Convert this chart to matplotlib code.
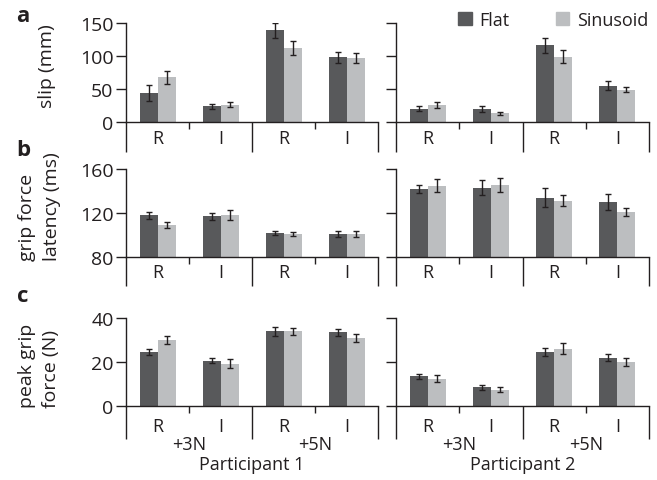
import matplotlib
matplotlib.use("Agg")
import matplotlib.pyplot as plt
from matplotlib.patches import Patch

plt.rcParams['font.family'] = ['Open Sans', 'DejaVu Sans']

# ---- data ----
sides = ["R", "I", "R", "I"]
loads = ["+3N", "+5N"]
participants = ["Participant 1", "Participant 2"]
series_names = ["Flat", "Sinusoid"]

# slip (mm)
slip_flat_p1 = [44, 24, 139, 98]
slip_flat_p1_err = [12, 4, 11, 8]
slip_sin_p1 = [68, 26, 112, 97]
slip_sin_p1_err = [10, 4, 10, 8]
slip_flat_p2 = [20, 20, 116, 55]
slip_flat_p2_err = [4, 5, 12, 7]
slip_sin_p2 = [26, 13, 99, 49]
slip_sin_p2_err = [5, 2, 10, 4]

# grip force latency (ms)
lat_flat_p1 = [118, 117, 102, 101]
lat_flat_p1_err = [3, 3, 2, 2.5]
lat_sin_p1 = [109, 118, 101, 101]
lat_sin_p1_err = [2.5, 4.5, 1.5, 2.5]
lat_flat_p2 = [142, 143, 134, 130]
lat_flat_p2_err = [3.5, 7, 8.5, 7]
lat_sin_p2 = [145, 145.5, 131, 121]
lat_sin_p2_err = [6, 6, 5, 4]

# peak grip force (N)
grip_flat_p1 = [24.5, 20.5, 34, 33.5]
grip_flat_p1_err = [1.3, 1.1, 2, 1.7]
grip_sin_p1 = [30, 19.3, 34, 31]
grip_sin_p1_err = [1.7, 2, 1.5, 1.7]
grip_flat_p2 = [13.5, 8.5, 24.5, 22]
grip_flat_p2_err = [1.2, 1, 1.8, 1.7]
grip_sin_p2 = [12.5, 7.5, 26, 20]
grip_sin_p2_err = [1.7, 1, 2.5, 2]

# ---- style ----
W, H = 657, 481
ink = '#231f20'
flat_color = '#58595b'
sin_color = '#bcbec0'
fs = 13

fig = plt.figure(figsize=(W / 100, H / 100), dpi=100)

# panel geometry in pixels: top/bottom of the axes, depth of the lines hanging
# below the axis, offset of the R/I labels, y label lines as (text, x)
rows = [
    dict(label='a', ylim=(0, 150), yticks=[0, 50, 100, 150],
         top=24, bottom=123, drop=30, cat_off=16.5, label_y=17,
         ylabel=[('slip (mm)', 47)], ylabel_y=66, ylabel_va='center',
         data=[(slip_flat_p1, slip_flat_p1_err, slip_sin_p1, slip_sin_p1_err),
               (slip_flat_p2, slip_flat_p2_err, slip_sin_p2, slip_sin_p2_err)]),
    dict(label='b', ylim=(80, 160), yticks=[80, 120, 160],
         top=170, bottom=258, drop=29, cat_off=15.5, label_y=150,
         ylabel=[('grip force', 27), ('latency (ms)', 52)], ylabel_y=261,
         ylabel_va='bottom',
         data=[(lat_flat_p1, lat_flat_p1_err, lat_sin_p1, lat_sin_p1_err),
               (lat_flat_p2, lat_flat_p2_err, lat_sin_p2, lat_sin_p2_err)]),
    dict(label='c', ylim=(0, 40), yticks=[0, 20, 40],
         top=319, bottom=407, drop=33, cat_off=20, label_y=296,
         ylabel=[('peak grip', 27), ('force (N)', 51)], ylabel_y=408,
         ylabel_va='bottom',
         data=[(grip_flat_p1, grip_flat_p1_err, grip_sin_p1, grip_sin_p1_err),
               (grip_flat_p2, grip_flat_p2_err, grip_sin_p2, grip_sin_p2_err)]),
]
cols = [(126, 378), (396, 649)]

bar_w = 18 / 63
x = list(range(len(sides)))

for r, row in enumerate(rows):
    h_px = row['bottom'] - row['top']
    for c, (x0, x1) in enumerate(cols):
        ax = fig.add_axes([x0 / W, 1 - row['bottom'] / H, (x1 - x0) / W, h_px / H])
        flat, flat_err, sin, sin_err = row['data'][c]
        ekw = dict(elinewidth=1.0, capthick=1.0, ecolor=ink)
        ax.bar([i - bar_w / 2 for i in x], flat, bar_w, color=flat_color,
               yerr=flat_err, capsize=2, error_kw=ekw)
        ax.bar([i + bar_w / 2 for i in x], sin, bar_w, color=sin_color,
               yerr=sin_err, capsize=2, error_kw=ekw)

        ax.set_xlim(-0.5, 3.5)
        ax.set_ylim(*row['ylim'])
        ax.set_yticks(row['yticks'])
        ax.set_xticks([])
        for s in ['top', 'right']:
            ax.spines[s].set_visible(False)
        for s in ['left', 'bottom']:
            ax.spines[s].set_color(ink)
            ax.spines[s].set_linewidth(1.0)
        ax.tick_params(axis='y', length=7.5, width=1.0, color=ink, pad=1.5,
                       labelsize=fs + 1, labelcolor=ink)
        if c == 1:
            ax.set_yticklabels([])

        # lines hanging below the axis
        tr = ax.get_xaxis_transform()
        for xs, depth in [(-0.5, row['drop']), (0.5, 7), (1.5, row['drop']),
                          (2.5, 7), (3.5, row['drop'])]:
            ax.plot([xs, xs], [0, -depth / h_px], transform=tr, color=ink,
                    lw=1.0, clip_on=False, solid_capstyle='butt')

        for i, s in enumerate(sides):
            ax.text(i, -row['cat_off'] / h_px, s, transform=tr, ha='center',
                    va='center', fontsize=fs, color=ink)

        if r == len(rows) - 1:
            for j, ld in enumerate(loads):
                ax.text(0.5 + 2 * j, -38 / h_px, ld, transform=tr, ha='center',
                        va='center', fontsize=fs, color=ink)
            ax.text(1.5, -58 / h_px, participants[c], transform=tr, ha='center',
                    va='center', fontsize=fs, color=ink)

    fig.text(23 / W, 1 - row['label_y'] / H, row['label'], fontsize=fs + 3,
             fontweight='bold', ha='center', va='center', color=ink)
    for txt, lx in row['ylabel']:
        fig.text(lx / W, 1 - row['ylabel_y'] / H, txt, rotation=90, ha='center',
                 va=row['ylabel_va'], fontsize=fs + 1, color=ink)

handles = [Patch(color=flat_color), Patch(color=sin_color)]
fig.legend(handles, series_names, loc='center', bbox_to_anchor=(553 / W, 1 - 21 / H),
           ncol=2, frameon=False, handlelength=0.75, handleheight=0.75,
           handletextpad=0.4, columnspacing=2.6, fontsize=fs, labelcolor=ink,
           borderpad=0, borderaxespad=0)

fig.savefig('out.png', dpi=100)
